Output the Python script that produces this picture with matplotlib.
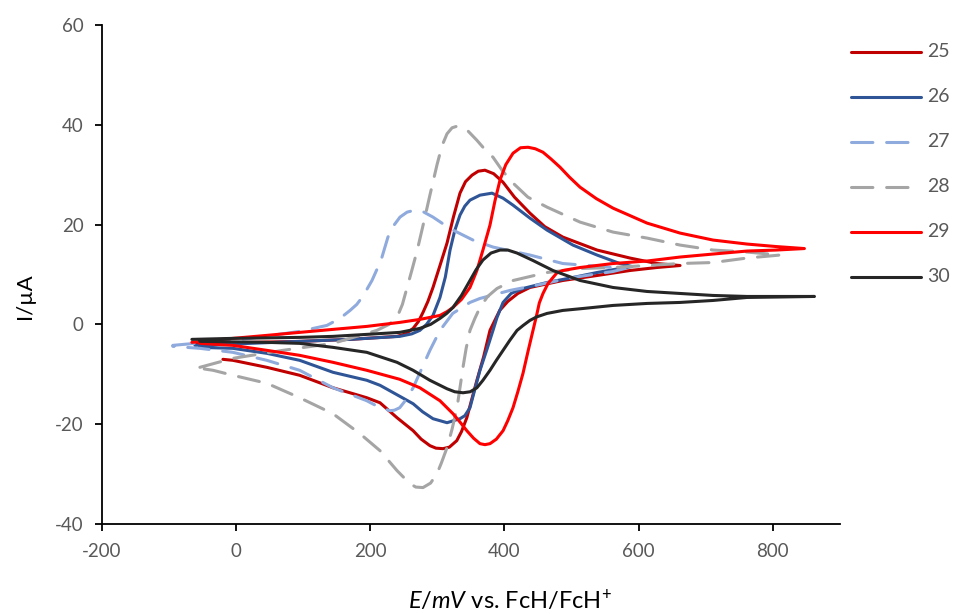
import matplotlib
matplotlib.use("Agg")
import matplotlib.pyplot as plt
from matplotlib.lines import Line2D

# ---- data (E in mV, I in uA), forward sweep then reverse sweep ----
labels = ["25", "26", "27", "28", "29", "30"]

e_25 = [-65.6, 20.9, 95, 170, 240, 253, 264, 272, 278.7, 286, 293.6, 304, 314.5, 324, 333.8, 342, 351.7, 361, 371, 384,
        397.9, 415, 438, 460, 487, 538, 587, 627, 661.7,
        627, 587, 538, 487, 438, 420, 405, 393, 378.5, 369, 359, 344, 336, 329, 318, 308.5, 298, 289, 276, 264, 240,
        214.6, 195, 144.6, 95, 46, -4.5, -19.4]
i_25 = [-3.8, -3.6, -3.4, -3.0, -2.4, -1.9, -0.8, 0.6, 2.4, 4.6, 7.4, 11.8, 16.3, 21.5, 26.3, 28.6, 29.9, 30.7, 30.9, 30.2,
        28.5, 25.5, 22.3, 19.6, 17.5, 14.9, 13.3, 12.2, 11.8,
        11.4, 10.8, 9.8, 8.8, 7.4, 6.2, 4.6, 2.8, -1.2, -6.5, -11.2, -18.7, -21.5, -23.3, -24.6, -24.9, -24.8, -24.3, -23.0,
        -21.3, -18.7, -15.7, -14.7, -12.7, -10.2, -8.6, -7.2, -7.0]

e_26 = [-61, 21, 95, 170, 244, 262, 274, 284, 293.6, 304, 312, 319, 326, 333.8, 341, 348.7, 363.6, 381.5, 397.9, 412.8,
        438, 463.5, 502, 538, 572, 590,
        572, 538, 502, 463.5, 427.7, 410, 398, 389, 383, 374, 363.6, 355, 348.7, 341, 333.8, 314.5, 293.6, 278, 264, 240,
        214.6, 195, 144.6, 95, 46, -4.5, -53.7]
i_26 = [-4.2, -3.8, -3.4, -3.0, -2.4, -1.9, -1.2, 0.0, 1.8, 5.4, 9.5, 14.9, 18.8, 21.9, 23.7, 24.9, 25.9, 26.3, 25.3, 23.9,
        21.3, 18.9, 15.9, 13.9, 12.2, 11.6,
        11.2, 10.4, 9.4, 8.4, 7.2, 6.2, 4.4, 1.4, -1.2, -5.0, -9.2, -13.5, -16.7, -18.3, -18.9, -19.7, -18.9, -17.5, -15.9,
        -14.1, -12.2, -11.2, -9.6, -7.2, -5.8, -4.8, -4.6]

e_27 = [-94, 21, 95, 135.6, 155, 170, 180, 187.8, 195, 202.7, 210, 217.6, 226.5, 235, 244.4, 255, 266.8, 280, 293.6, 308,
        323.4, 353.2, 383, 438, 487, 542.5, 579.7,
        561.8, 502, 453, 408, 363.6, 348.7, 323, 304, 289, 264, 254, 244, 236, 229.5, 212, 195, 144.6, 95, 46, -4.5, -53.7, -94]
i_27 = [-4.2, -2.8, -1.4, -0.2, 1.2, 2.8, 4.0, 5.4, 7.0, 8.8, 11.0, 13.5, 17.5, 19.8, 21.5, 22.5, 22.9, 22.5, 21.5, 20.2,
        18.9, 16.9, 15.5, 13.9, 12.2, 11.6, 11.2,
        10.6, 9.4, 8.0, 6.8, 5.2, 4.4, 2.2, -1.2, -5.2, -12.7, -15.0, -16.7, -17.2, -17.3, -16.5, -15.3, -12.7, -9.2, -7.2,
        -5.6, -4.8, -4.4]

e_28 = [-53.7, -4.5, 70, 144.6, 210, 228, 240, 248, 255, 262, 270, 278.7, 289, 299.6, 307, 314.5, 322, 329, 337, 344, 359,
        370, 383, 397, 413, 435, 463.5, 512.7, 561.8, 612.5, 661.7, 710.9, 761.5, 810.7,
        761.5, 710.9, 661.7, 612.5, 561.8, 512.7, 463.5, 413, 389, 375, 363.6, 356, 348.7, 343, 338.3, 334, 329.4, 322,
        314.5, 306, 299.6, 290, 278.7, 268, 259, 240, 214.6, 184.8, 144.6, 95, 46, -4.5, -34, -53.7]
i_28 = [-8.6, -6.8, -5.2, -3.8, -1.2, 0.0, 1.4, 4.0, 7.4, 10.8, 14.8, 19.8, 25.9, 32.0, 35.8, 38.2, 39.4, 39.7, 39.5, 39.0,
        36.9, 35.2, 33.5, 30.8, 28.3, 25.5, 23.5, 20.5, 18.5, 17.3, 15.9, 14.9, 14.5, 13.9,
        13.3, 12.4, 12.2, 11.8, 11.4, 11.2, 10.4, 8.8, 7.2, 5.6, 3.4, 1.2, -1.2, -4.8, -8.6, -12.5, -16.7, -21.0,
        -24.7, -27.8, -29.9, -31.8, -32.7, -32.6, -31.9, -29.3, -25.3, -21.9, -17.9, -14.7, -11.8, -10.2, -9.2, -8.8]

e_29 = [-65.6, -4.5, 46, 95, 144.6, 195, 244, 274, 304, 315, 323.4, 336, 348.7, 359, 368, 378.5, 386, 393.4, 402, 412.8,
        424, 435.2, 446, 457.5, 469, 482.9, 497, 512.7, 537, 561.8, 612.5, 661.7, 710.9, 761.5, 805, 847,
        805, 761.5, 710.9, 661.7, 612.5, 561.8, 512.7, 487, 478, 472.4, 465, 457.5, 452, 448.6, 442.6, 435, 427.7, 420, 412.8,
        405, 398, 388, 378.5, 371, 363.6, 354, 344, 334, 323.4, 304, 274, 244, 195, 144.6, 95, 46, -4.5, -53.7]
i_29 = [-3.6, -2.8, -2.2, -1.6, -1.0, -0.4, 0.4, 1.0, 1.8, 2.6, 3.4, 5.0, 7.4, 10.8, 14.9, 19.9, 24.8, 28.9, 32.0, 34.3,
        35.4, 35.5, 35.2, 34.5, 33.2, 31.5, 29.5, 27.5, 25.2, 23.3, 20.3, 18.3, 16.9, 16.1, 15.6, 15.2,
        14.9, 14.7, 14.1, 13.5, 12.7, 12.2, 11.4, 10.8, 10.3, 9.4, 8.2, 6.2, 4.3, 2.2, -1.2, -5.5, -9.8, -13.5, -16.7,
        -19.3, -21.3, -23.0, -23.9, -24.1, -23.9, -22.8, -21.3, -19.6, -17.9, -15.3, -12.7, -11.0, -9.2, -7.6, -6.2, -5.2,
        -4.2, -3.8]

e_30 = [-65.6, -4.5, 95, 144.6, 195, 244, 274, 290, 304, 314, 323.4, 336, 348.7, 358, 368, 380, 393.4, 405, 418.8, 442.6,
        472.4, 512.7, 561.8, 612.5, 661.7, 710.9, 761.5, 815, 862,
        815, 761.5, 710.9, 661.7, 612.5, 561.8, 518, 487, 463.5, 448, 438, 428, 418.8, 408, 398, 388, 378.5, 368, 359, 349,
        338.3, 326, 314.5, 289, 264, 240, 195, 144.6, 95, 46, -53.7]
i_30 = [-3.0, -2.8, -2.6, -2.4, -2.0, -1.6, -0.8, 0.0, 1.2, 2.2, 3.4, 5.8, 8.8, 11.0, 12.9, 14.3, 14.9, 14.9, 14.3, 12.8,
        10.8, 8.8, 7.4, 6.6, 6.2, 5.8, 5.6, 5.6, 5.6,
        5.5, 5.4, 4.8, 4.4, 4.2, 3.8, 3.2, 2.8, 2.2, 1.5, 0.8, -0.2, -1.2, -3.2, -5.2, -7.2, -9.2, -11.2, -12.7, -13.5,
        -13.7, -13.5, -12.9, -11.2, -9.2, -7.6, -5.6, -4.6, -3.8, -3.6, -3.4]

x_ticks = [-200, 0, 200, 400, 600, 800]
y_ticks = [-40, -20, 0, 20, 40, 60]

# ---- style ----
plt.rcParams['font.family'] = ['Lato', 'DejaVu Sans']
plt.rcParams['mathtext.fontset'] = 'custom'
plt.rcParams['mathtext.rm'] = 'Lato'
plt.rcParams['mathtext.it'] = 'Lato:italic'
plt.rcParams['axes.unicode_minus'] = False

colors = ["#C00000", "#2F5597", "#8FAADC", "#A5A5A5", "#FF0000", "#262626"]
dash = (0, (7, 4.5))
styles = ["-", "-", dash, dash, "-", "-"]
series = [(e_25, i_25), (e_26, i_26), (e_27, i_27), (e_28, i_28), (e_29, i_29), (e_30, i_30)]
LW = 2.2

W, H = 956, 614
fig = plt.figure(figsize=(W / 100, H / 100), dpi=100)
left, right, top, bottom = 101.7, 840, 25, 524
ax = fig.add_axes([left / W, 1 - bottom / H, (right - left) / W, (bottom - top) / H])

for (e, i), c, ls in zip(series, colors, styles):
    ax.plot(e, i, color=c, linestyle=ls, linewidth=LW, solid_capstyle='round',
            dash_capstyle='round', solid_joinstyle='round', dash_joinstyle='round')

ax.set_xlim(-200, 900)
ax.set_ylim(-40, 60)
ax.set_xticks(x_ticks)
ax.set_yticks(y_ticks)
for s in ['top', 'right']:
    ax.spines[s].set_visible(False)
for s in ['left', 'bottom']:
    ax.spines[s].set_linewidth(1.3)
    ax.spines[s].set_color('black')
ax.tick_params(axis='both', direction='out', length=5, width=1.3, color='black',
               labelsize=13.5, labelcolor='#595959')
ax.tick_params(axis='x', pad=9)
ax.tick_params(axis='y', pad=8)

fig.text(25 / W, 1 - 296 / H, "I/\u00b5A", rotation=90, ha='center', va='center',
         fontsize=16, color='black')
fig.text(510 / W, 1 - 600 / H, r"$\mathit{E/mV}$ vs. FcH/FcH$^{+}$", ha='center', va='center',
         fontsize=17, color='black')

# legend (manual, right side)
leg_y = [51.7, 96.7, 141.7, 186.5, 231.5, 276.5]
for lab, c, ls, yy in zip(labels, colors, styles, leg_y):
    fig.add_artist(Line2D([851 / W, 921 / W], [1 - yy / H, 1 - yy / H], color=c, linestyle=ls,
                          linewidth=LW, solid_capstyle='round', dash_capstyle='round',
                          transform=fig.transFigure))
    fig.text(927 / W, 1 - yy / H, lab, ha='left', va='center', fontsize=14, color='#595959')

fig.savefig("out.png", dpi=100)
